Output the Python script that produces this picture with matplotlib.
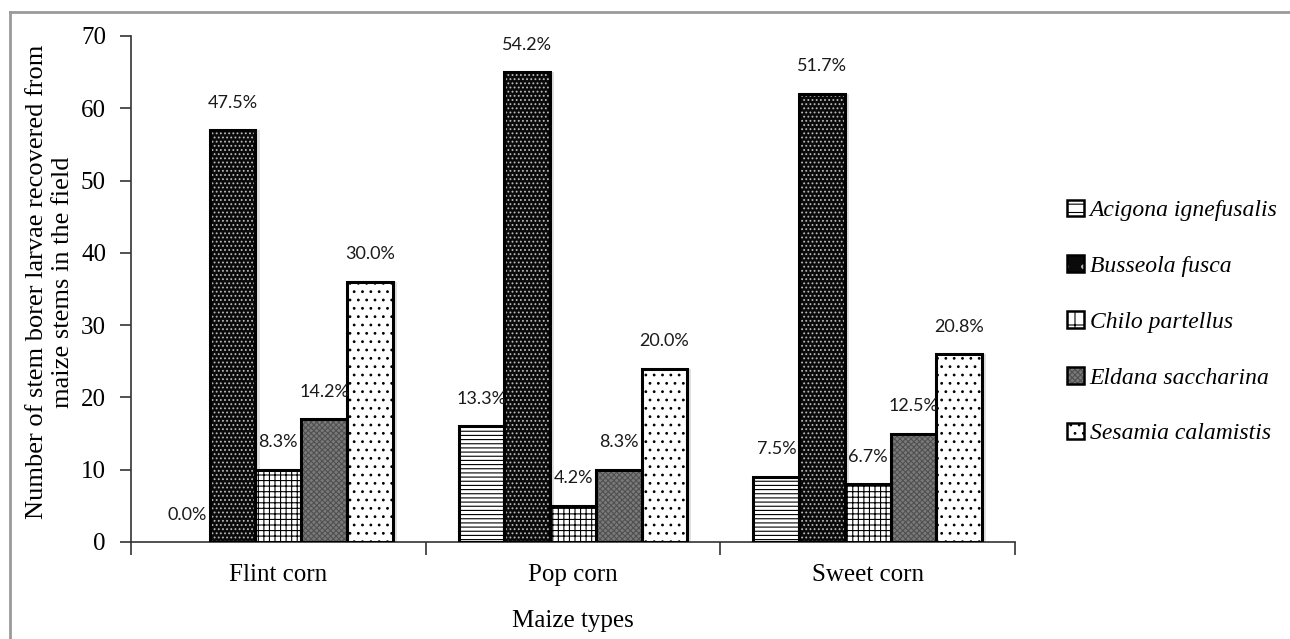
import matplotlib
matplotlib.use("Agg")
import matplotlib.pyplot as plt
import numpy as np
from matplotlib.patches import Patch
from matplotlib.lines import Line2D
from matplotlib.legend_handler import HandlerTuple

categories = ["Flint corn", "Pop corn", "Sweet corn"]
species = ["Acigona ignefusalis", "Busseola fusca", "Chilo partellus",
           "Eldana saccharina", "Sesamia calamistis"]
acigona = [0, 16, 9]
busseola = [57, 65, 62]
chilo = [10, 5, 8]
eldana = [17, 10, 15]
sesamia = [36, 24, 26]
pct_acigona = ["0.0%", "13.3%", "7.5%"]
pct_busseola = ["47.5%", "54.2%", "51.7%"]
pct_chilo = ["8.3%", "4.2%", "6.7%"]
pct_eldana = ["14.2%", "8.3%", "12.5%"]
pct_sesamia = ["30.0%", "20.0%", "20.8%"]
yticks = [0, 10, 20, 30, 40, 50, 60, 70]

series = [acigona, busseola, chilo, eldana, sesamia]
pcts = [pct_acigona, pct_busseola, pct_chilo, pct_eldana, pct_sesamia]
# (facecolor, hatch, hatchcolor)
styles = [("white", "----", "black"),
          ("#0a0a0a", "....", "#bbbbbb"),
          ("white", "+++", "black"),
          ("#7a7a7a", "xxxxxx", "#505050"),
          ("white", "..", "black")]

plt.rcParams["hatch.linewidth"] = 0.8
W, H = 1290, 639
fig = plt.figure(figsize=(W / 100, H / 100), dpi=100)
ax = fig.add_axes([131 / W, 1 - 542 / H, (1015 - 131) / W, (542 - 36) / H])

serif = "Liberation Serif"
x = np.arange(len(categories))
bw = 0.155
handles = []
for i, (vals, p, (fc, hatch, hc)) in enumerate(zip(series, pcts, styles)):
    pos = x + (i - 2) * bw
    lws = [2.2 if v > 0 else 0 for v in vals]
    # soft shadow
    ax.bar(pos + 0.014, vals, bw, color="#e0e0e0", zorder=1, linewidth=0)
    ax.bar(pos, vals, bw, facecolor=fc, edgecolor=hc, hatch=hatch,
           linewidth=0, zorder=2)
    ax.bar(pos, vals, bw, fill=False, edgecolor="black", linewidth=lws,
           zorder=3)
    for xp, v, t in zip(pos, vals, p):
        ax.annotate(t, (xp, v), xytext=(0, 14), textcoords="offset points",
                    ha="center", va="bottom", fontsize=13, family="Lato",
                    color="#1a1a1a", zorder=5)
    h1 = Patch(facecolor=fc, edgecolor=hc,
               hatch=hatch.replace("----", "--").replace("+++", "+").replace("....", "."),
               linewidth=0)
    h2 = Patch(fill=False, edgecolor="black", linewidth=1.8)
    handles.append((h1, h2))

ax.set_xlim(-0.5, 2.5)
ax.set_ylim(0, 70)
ax.set_yticks(yticks)
ax.set_yticklabels([str(v) for v in yticks], family=serif, fontsize=18)
ax.tick_params(axis="y", direction="out", length=8, width=1.2, color="#333333", pad=10)
ax.set_xticks(x)
ax.set_xticklabels(categories, family=serif, fontsize=18)
ax.tick_params(axis="x", which="major", length=0, pad=16)
ax.set_xticks([-0.5, 0.5, 1.5, 2.5], minor=True)
ax.tick_params(axis="x", which="minor", direction="out", length=9, width=1.2, color="#333333")
for s in ["top", "right"]:
    ax.spines[s].set_visible(False)
for s in ["left", "bottom"]:
    ax.spines[s].set_linewidth(1.2)
    ax.spines[s].set_color("#333333")

fig.text(573 / W, 1 - 621 / H, "Maize types", family=serif, fontsize=18,
         ha="center", va="center")
fig.text(50 / W, 1 - 282 / H,
         "Number of stem borer larvae recovered from\nmaize stems in the field",
         family=serif, fontsize=19, rotation=90, ha="center", va="center",
         linespacing=1.2, multialignment="center")

leg = fig.legend(handles, species, handler_map={tuple: HandlerTuple(ndivide=1, pad=0)},
                 loc="center left", bbox_to_anchor=(1046 / W, 1 - 322 / H),
                 frameon=False, handlelength=0.7, handleheight=0.7,
                 handletextpad=0.25, labelspacing=1.45,
                 prop={"family": serif, "style": "italic", "size": 17})

# outer frame
fig.add_artist(Line2D([10 / W, 1], [1 - 12 / H, 1 - 12 / H], color="#9a9a9a", lw=2,
                      transform=fig.transFigure))
fig.add_artist(Line2D([10 / W, 10 / W], [0, 1 - 12 / H], color="#9a9a9a", lw=2,
                      transform=fig.transFigure))

fig.savefig("out.png", dpi=100)
